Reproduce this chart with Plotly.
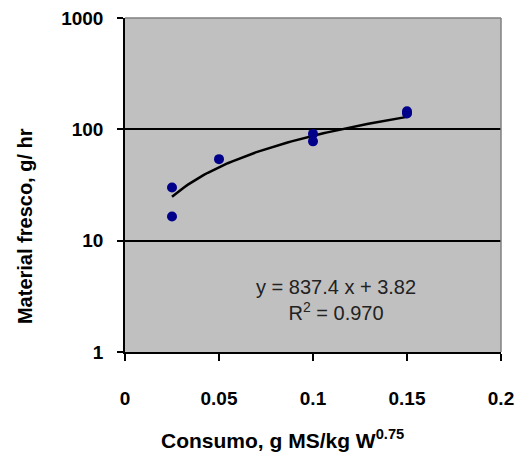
import numpy as np
import plotly.graph_objects as go

# Data
consumo = [0.025, 0.025, 0.05, 0.1, 0.1, 0.15, 0.15]
material = [30, 16.5, 54, 91, 78, 145, 139]

# Trendline coefficients (as printed on chart)
slope = 837.4
intercept = 3.82
r2 = 0.970

x_ticks = [0, 0.05, 0.1, 0.15, 0.2]
x_ticktext = ["0", "0.05", "0.1", "0.15", "0.2"]
y_ticks = [1, 10, 100, 1000]
y_ticktext = ["1", "10", "100", "1000"]

FONT = "Arial, Liberation Sans, sans-serif"

xt = np.linspace(min(consumo), max(consumo), 60)
yt = slope * xt + intercept

fig = go.Figure()
fig.add_trace(go.Scatter(x=xt, y=yt, mode="lines",
                         line=dict(color="black", width=2.5), hoverinfo="skip"))
fig.add_trace(go.Scatter(x=consumo, y=material, mode="markers",
                         marker=dict(color="#00008B", size=10, symbol="circle")))

fig.update_layout(
    width=522, height=453,
    margin=dict(l=125, r=21, t=18, b=101),
    paper_bgcolor="white",
    plot_bgcolor="#C0C0C0",
    showlegend=False,
    font=dict(family=FONT, color="black"),
    xaxis=dict(range=[0, 0.2], tickvals=x_ticks, ticktext=x_ticktext,
               showgrid=False, zeroline=False, automargin=False,
               showline=True, linecolor="black", linewidth=1.5,
               ticks="outside", ticklen=7, tickcolor="black", tickwidth=1.5,
               ticklabelstandoff=21,
               tickfont=dict(family=FONT, size=19, color="black", weight="bold")),
    yaxis=dict(type="log", range=[0, 3], tickvals=y_ticks, ticktext=y_ticktext,
               showgrid=True, gridcolor="black", gridwidth=1.5, zeroline=False,
               automargin=False,
               showline=True, linecolor="black", linewidth=1.5,
               ticks="outside", ticklen=6, tickcolor="black", tickwidth=1.5,
               ticklabelstandoff=10,
               tickfont=dict(family=FONT, size=19, color="black", weight="bold")),
    shapes=[
        dict(type="line", xref="paper", yref="paper", x0=0, x1=1, y0=1, y1=1,
             line=dict(color="#808080", width=1.5)),
        dict(type="line", xref="paper", yref="paper", x0=1, x1=1, y0=0, y1=1,
             line=dict(color="#808080", width=1.5)),
    ],
    annotations=[
        dict(text=f"y = {slope} x + {intercept}<br>R<sup>2</sup> = {r2:.3f}",
             x=0.112, y=0.467, xref="x", yref="y", showarrow=False,
             xanchor="center", yanchor="middle",
             font=dict(family=FONT, size=20, color="#222222"), align="center"),
        dict(text="Consumo, g MS/kg W<sup>0.75</sup>", x=0.418, y=-0.26,
             xref="paper", yref="paper", showarrow=False,
             xanchor="center", yanchor="middle",
             font=dict(family=FONT, size=21, color="black", weight="bold")),
        dict(text="Material fresco, g/ hr", x=-0.266, y=0.377, textangle=-90,
             xref="paper", yref="paper", showarrow=False,
             xanchor="center", yanchor="middle",
             font=dict(family=FONT, size=20, color="black", weight="bold")),
    ],
)

fig.write_html("out.html", config={"displayModeBar": False},
               post_script="document.body.style.margin='0';")
